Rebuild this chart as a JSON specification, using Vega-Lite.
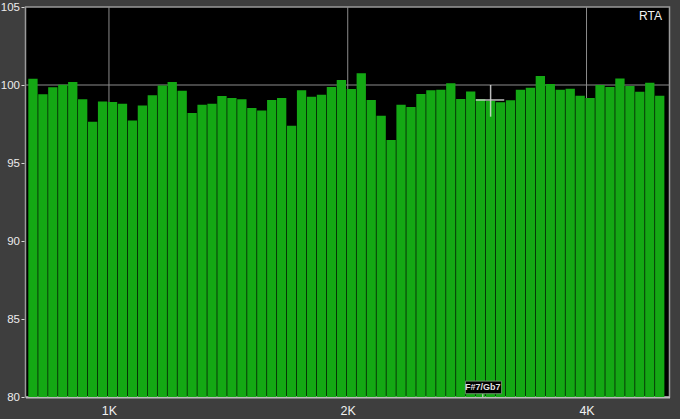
{
  "$schema": "https://vega.github.io/schema/vega-lite/v6.json",
  "width": 644,
  "height": 390,
  "autosize": {"type": "none"},
  "padding": {"left": 25.5, "top": 7, "right": 10.5, "bottom": 22},
  "background": "#3e3e3e",
  "config": {
    "font": "Liberation Sans",
    "view": {"fill": "#000000", "stroke": "#9a9a9a", "strokeWidth": 1.5},
    "axis": {"grid": false, "gridOpacity": 0, "title": null}
  },
  "datasets": {
    "rta": [
      {"freq": 802.0, "level": 100.40},
      {"freq": 825.5, "level": 99.40},
      {"freq": 849.6, "level": 99.85},
      {"freq": 874.5, "level": 100.02},
      {"freq": 900.2, "level": 100.19},
      {"freq": 926.5, "level": 99.08},
      {"freq": 953.7, "level": 97.64},
      {"freq": 981.6, "level": 98.95},
      {"freq": 1010.4, "level": 98.91},
      {"freq": 1040.0, "level": 98.80},
      {"freq": 1070.5, "level": 97.73},
      {"freq": 1101.9, "level": 98.69},
      {"freq": 1134.1, "level": 99.34},
      {"freq": 1167.4, "level": 99.96},
      {"freq": 1201.6, "level": 100.19},
      {"freq": 1236.8, "level": 99.63},
      {"freq": 1273.0, "level": 98.20},
      {"freq": 1310.3, "level": 98.73},
      {"freq": 1348.7, "level": 98.80},
      {"freq": 1388.2, "level": 99.29},
      {"freq": 1428.9, "level": 99.16},
      {"freq": 1470.8, "level": 99.08},
      {"freq": 1513.9, "level": 98.52},
      {"freq": 1558.3, "level": 98.37},
      {"freq": 1603.9, "level": 99.04},
      {"freq": 1650.9, "level": 99.16},
      {"freq": 1699.3, "level": 97.39},
      {"freq": 1749.1, "level": 99.66},
      {"freq": 1800.3, "level": 99.25},
      {"freq": 1853.1, "level": 99.38},
      {"freq": 1907.4, "level": 99.87},
      {"freq": 1963.3, "level": 100.32},
      {"freq": 2020.8, "level": 99.74},
      {"freq": 2080.0, "level": 100.75},
      {"freq": 2141.0, "level": 99.04},
      {"freq": 2203.7, "level": 98.03},
      {"freq": 2268.3, "level": 96.47},
      {"freq": 2334.7, "level": 98.73},
      {"freq": 2403.2, "level": 98.59},
      {"freq": 2473.6, "level": 99.42},
      {"freq": 2546.0, "level": 99.66},
      {"freq": 2620.7, "level": 99.70},
      {"freq": 2697.4, "level": 100.11},
      {"freq": 2776.5, "level": 99.10},
      {"freq": 2857.8, "level": 99.59},
      {"freq": 2941.6, "level": 99.08},
      {"freq": 3027.8, "level": 98.99},
      {"freq": 3116.5, "level": 98.89},
      {"freq": 3207.8, "level": 99.02},
      {"freq": 3301.8, "level": 99.70},
      {"freq": 3398.6, "level": 99.83},
      {"freq": 3498.1, "level": 100.58},
      {"freq": 3600.7, "level": 100.06},
      {"freq": 3706.2, "level": 99.70},
      {"freq": 3814.8, "level": 99.76},
      {"freq": 3926.5, "level": 99.31},
      {"freq": 4041.6, "level": 99.16},
      {"freq": 4160.0, "level": 100.00},
      {"freq": 4282.0, "level": 99.87},
      {"freq": 4407.4, "level": 100.41},
      {"freq": 4536.5, "level": 99.94},
      {"freq": 4669.4, "level": 99.57},
      {"freq": 4806.3, "level": 100.15},
      {"freq": 4947.1, "level": 99.31}
    ],
    "xgrid": [{"freq": 1000}, {"freq": 2000}, {"freq": 4000}],
    "ygrid": [{"level": 100}],
    "one": [{}]
  },
  "layer": [
    {
      "data": {"name": "xgrid"},
      "mark": {"type": "rule", "color": "#8c8c8c", "strokeWidth": 1},
      "encoding": {
        "x": {"field": "freq", "type": "quantitative", "title": null}
      }
    },
    {
      "data": {"name": "ygrid"},
      "mark": {"type": "rule", "color": "#8c8c8c", "strokeWidth": 1.2},
      "encoding": {
        "y": {"field": "level", "type": "quantitative", "title": null}
      }
    },
    {
      "data": {"name": "rta"},
      "mark": {"type": "bar", "size": 9.3, "fill": "#14a814", "fillOpacity": 1, "opacity": 1, "strokeWidth": 0, "clip": true},
      "encoding": {
        "x": {
          "field": "freq",
          "type": "quantitative",
          "scale": {"type": "log", "domain": [796.3, 5016], "nice": false},
          "axis": {
            "values": [1000, 2000, 4000],
            "labelExpr": "datum.value / 1000 + 'K'",
            "grid": false,
            "ticks": false,
            "tickSize": 0,
            "labelPadding": 7,
            "labelFontSize": 12.5,
            "labelColor": "#f0f0f0",
            "labelFlush": false,
            "domainColor": "#bdbdbd",
            "domainWidth": 2,
            "title": null
          }
        },
        "y": {
          "field": "level",
          "type": "quantitative",
          "stack": null,
          "scale": {"domain": [80, 105], "nice": false, "zero": false},
          "axis": {
            "values": [80, 81.25, 82.5, 83.75, 85, 86.25, 87.5, 88.75, 90, 91.25, 92.5, 93.75, 95, 96.25, 97.5, 98.75, 100, 101.25, 102.5, 103.75, 105],
            "labelExpr": "datum.value % 5 === 0 ? datum.label : ''",
            "grid": false,
            "domain": false,
            "tickSize": {"condition": {"test": "datum.value % 5 === 0", "value": 3}, "value": 2},
            "tickColor": {"condition": {"test": "datum.value % 5 === 0", "value": "#d8d8d8"}, "value": "#a8a8a8"},
            "offset": 1.5,
            "labelPadding": 1.5,
            "labelFontSize": 11.5,
            "labelColor": "#ececec",
            "labelFlush": false,
            "labelOverlap": false,
            "title": null
          }
        }
      }
    },
    {
      "data": {"name": "one"},
      "mark": {"type": "text", "text": "RTA", "align": "right", "baseline": "middle", "dx": -2.5, "dy": 9, "fontSize": 12, "color": "#f2f2f2"},
      "encoding": {
        "x": {"datum": 5016, "type": "quantitative"},
        "y": {"datum": 105, "type": "quantitative"}
      }
    },
    {
      "data": {"name": "one"},
      "mark": {"type": "rule", "color": "#dcdcdc", "strokeWidth": 1.5, "opacity": 0.85},
      "encoding": {
        "x": {"datum": 3027.8, "type": "quantitative"},
        "y": {"datum": 100.0, "type": "quantitative"},
        "y2": {"datum": 97.97}
      }
    },
    {
      "data": {"name": "one"},
      "mark": {"type": "rule", "color": "#dcdcdc", "strokeWidth": 1.5, "opacity": 0.85},
      "encoding": {
        "x": {"datum": 2900, "type": "quantitative"},
        "x2": {"datum": 3150},
        "y": {"datum": 99.04, "type": "quantitative"}
      }
    },
    {
      "data": {"name": "one"},
      "mark": {"type": "rule", "color": "#dcdcdc", "strokeWidth": 1},
      "encoding": {
        "x": {"datum": 2960, "type": "quantitative"},
        "y": {"datum": 80.21, "type": "quantitative"},
        "y2": {"datum": 80}
      }
    },
    {
      "data": {"name": "one"},
      "mark": {"type": "rect", "fill": "#000000", "stroke": "#6a8f6a", "strokeWidth": 1},
      "encoding": {
        "x": {"datum": 2814, "type": "quantitative"},
        "x2": {"datum": 3126},
        "y": {"datum": 81.02, "type": "quantitative"},
        "y2": {"datum": 80.21}
      }
    },
    {
      "data": {"name": "one"},
      "mark": {"type": "text", "text": "F#7/Gb7", "align": "center", "baseline": "middle", "fontSize": 9, "fontWeight": "bold", "color": "#e2e2e2"},
      "encoding": {
        "x": {"datum": 2960, "type": "quantitative"},
        "y": {"datum": 80.62, "type": "quantitative"}
      }
    }
  ]
}
